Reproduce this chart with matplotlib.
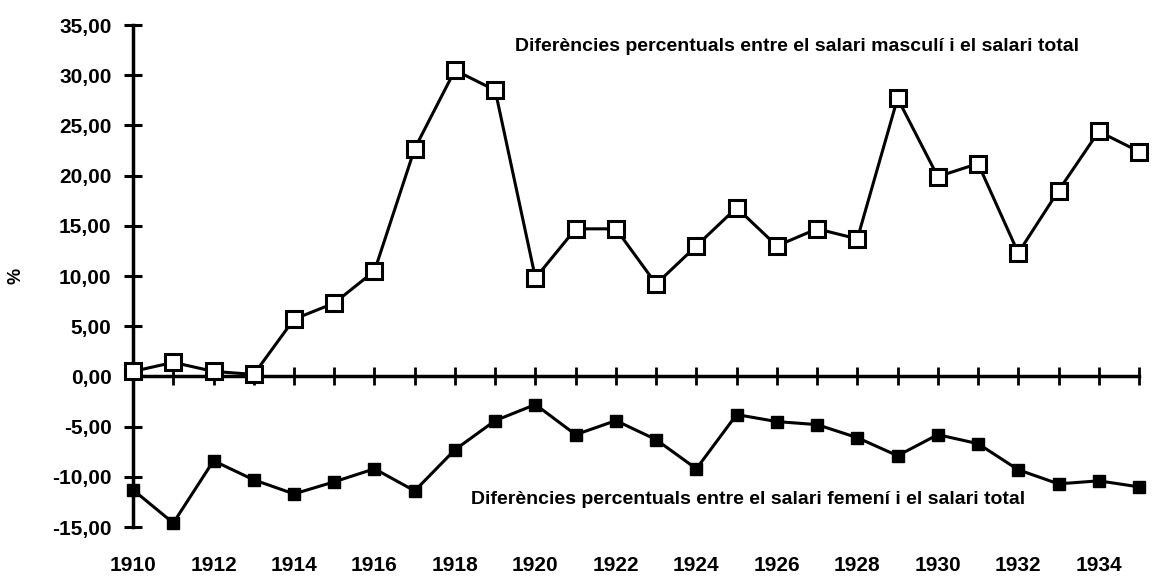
import matplotlib
matplotlib.use("Agg")
import matplotlib.pyplot as plt
from matplotlib.ticker import FuncFormatter

# ========== DADES ==========
YEARS = list(range(1910, 1936))
MASCULI = [0.5, 1.4, 0.5, 0.2, 5.7, 7.3, 10.5, 22.7, 30.5, 28.5,
           9.8, 14.7, 14.7, 9.2, 13.0, 16.8, 13.0, 14.7, 13.7, 27.7,
           19.9, 21.2, 12.3, 18.5, 24.4, 22.4]
FEMENI = [-11.3, -14.6, -8.4, -10.3, -11.7, -10.5, -9.2, -11.4, -7.3, -4.4,
          -2.8, -5.8, -4.4, -6.3, -9.2, -3.8, -4.5, -4.8, -6.1, -7.9,
          -5.8, -6.7, -9.3, -10.7, -10.4, -11.0]
Y_TICKS = [-15, -10, -5, 0, 5, 10, 15, 20, 25, 30, 35]
X_LABELS = list(range(1910, 1935, 2))
TEXT_MASC = "Diferències percentuals entre el salari masculí i el salari total"
TEXT_FEM = "Diferències percentuals entre el salari femení i el salari total"
# ===========================

plt.rcParams['font.family'] = ['Liberation Sans', 'DejaVu Sans']

fig = plt.figure(figsize=(11.52, 5.78), dpi=100)
ax = fig.add_axes([0.1155, 0.0882, 0.8732, 0.8685])

ax.plot(YEARS, MASCULI, color='black', lw=2.2, marker='s', ms=11,
        mfc='white', mec='black', mew=2.2, zorder=3, clip_on=False)
ax.plot(YEARS, FEMENI, color='black', lw=2.2, marker='s', ms=9,
        mfc='black', mec='black', zorder=3, clip_on=False)

ax.set_xlim(1910, 1935)
ax.set_ylim(-15, 35)

# eixos creuats
for s in ['top', 'right']:
    ax.spines[s].set_visible(False)
ax.spines['bottom'].set_position(('data', 0))
ax.spines['bottom'].set_linewidth(2.5)
ax.spines['left'].set_linewidth(2.5)

ax.set_yticks(Y_TICKS)
ax.yaxis.set_major_formatter(FuncFormatter(lambda v, p: f"{v:.2f}".replace('.', ',')))
ax.tick_params(axis='y', direction='inout', length=13, width=2.2,
               labelsize=15, pad=9)
for lab in ax.get_yticklabels():
    lab.set_fontweight('bold')

ax.set_xticks(YEARS)
ax.tick_params(axis='x', direction='inout', length=13, width=2,
               labelbottom=False)

# etiquetes dels anys a la part inferior
sec = ax.secondary_xaxis(0)
sec.spines['bottom'].set_visible(False)
sec.set_xticks(X_LABELS)
sec.tick_params(length=0, labelsize=15, pad=21)
for lab in sec.get_xticklabels():
    lab.set_fontweight('bold')

fig.text(16 / 1152, 1 - 276 / 578, '%', rotation=90, fontsize=13,
         fontweight='bold', ha='center', va='center')

ax.text(1919.5, 32.9, TEXT_MASC, fontsize=14, fontweight='bold',
        ha='left', va='center')
ax.text(1918.4, -12.3, TEXT_FEM, fontsize=14, fontweight='bold',
        ha='left', va='center')

plt.savefig("out.png", dpi=100, facecolor='white')
